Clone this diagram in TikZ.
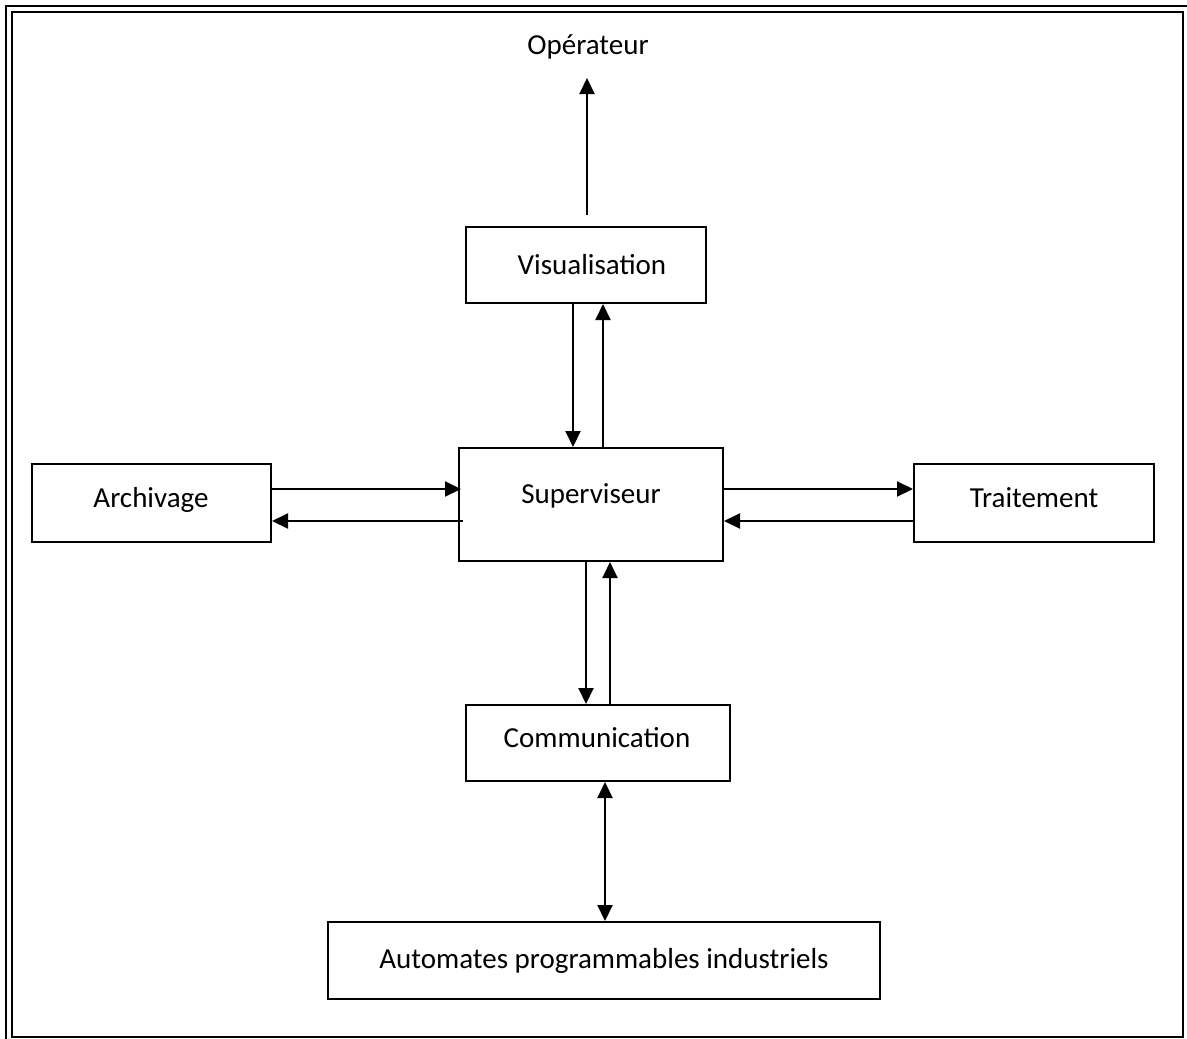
\documentclass[tikz,border=0pt]{standalone}
\usepackage{fontspec}
\setmainfont{Carlito}
\usetikzlibrary{arrows.meta}
\begin{document}
\begin{tikzpicture}[x=1pt,y=-1pt,
  box/.style={draw=black,line width=2pt,inner sep=0pt,fill=none},
  txt/.style={inner sep=0pt,text height=19pt,text depth=0pt,font=\fontsize{29}{35}\selectfont},
  arr/.style={line width=2pt,-{Triangle[length=16pt,width=15pt]}},
  darr/.style={line width=2pt,{Triangle[length=16pt,width=15pt]}-{Triangle[length=16pt,width=15pt]}},
  frame/.style={line width=2.2pt}]
\useasboundingbox (0,0) rectangle (1187,1039);
% frame
\draw[frame] (6,1039) -- (6,6) -- (1187,6);
\draw[frame] (12,12) rectangle (1183,1037);
% boxes
\node[box,minimum width=240pt,minimum height=76pt] (vis) at (586,265) {};
\node[txt] (vist) at (592,265) {Visualisation};
\node[box,minimum width=264pt,minimum height=113pt] (sup) at (591,504.5) {};
\node[txt] (supt) at (591,493.5) {Superviseur};
\node[box,minimum width=239pt,minimum height=78pt] (arc) at (151.5,503) {};
\node[txt] (arct) at (151,498) {Archivage};
\node[box,minimum width=240pt,minimum height=78pt] (tra) at (1034,503) {};
\node[txt] (trat) at (1034,498) {Traitement};
\node[box,minimum width=264pt,minimum height=76pt] (com) at (598,743) {};
\node[txt] (comt) at (597,738) {Communication};
\node[box,minimum width=552pt,minimum height=77pt] (aut) at (604,960.5) {};
\node[txt] (autt) at (604,959) {Automates programmables industriels};
\node[txt] (op) at (588,45) {Opérateur};
% connectors
\coordinate (o1) at (587,215);
\coordinate (o2) at (587,78);
\draw[arr] (o1) -- (o2);
\draw[arr] ([xshift=-13pt]vis.south) -- ([xshift=-18pt]sup.north);
\draw[arr] ([xshift=12pt]sup.north) -- ([xshift=17pt]vis.south);
\draw[arr] ([yshift=14pt]arc.east) -- ([xshift=3pt,yshift=15.5pt]sup.west);
\draw[arr] ([xshift=5pt,yshift=-16.5pt]sup.west) -- ([yshift=-18pt]arc.east);
\draw[arr] ([xshift=-1pt,yshift=15.5pt]sup.east) -- ([yshift=14pt]tra.west);
\draw[arr] ([yshift=-18pt]tra.west) -- ([yshift=-16.5pt]sup.east);
\draw[arr] ([xshift=-5pt]sup.south) -- ([xshift=-12pt]com.north);
\draw[arr] ([xshift=12pt]com.north) -- ([xshift=19pt]sup.south);
\draw[darr] ([xshift=7pt]com.south) -- ([xshift=1pt]aut.north);
\end{tikzpicture}
\end{document}
